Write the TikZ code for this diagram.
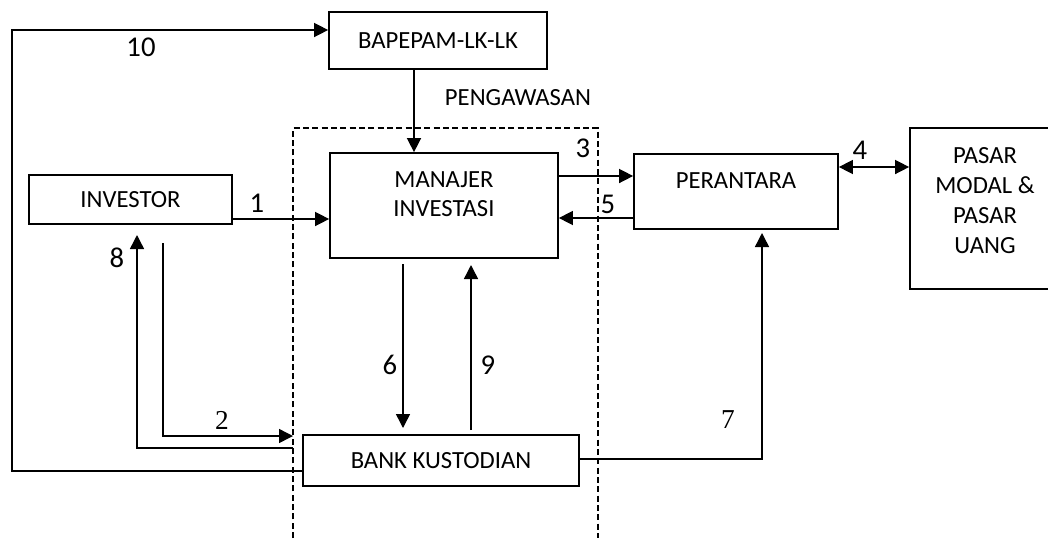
\documentclass[tikz,border=0pt]{standalone}
\usepackage{fontspec}
\setmainfont{Carlito}
\newfontfamily\seriffont{Liberation Serif}
\usetikzlibrary{arrows.meta}
\tikzset{
  box/.style={draw, line width=1.3pt, inner sep=0pt, font=\fontsize{18.5}{21.75}\selectfont, align=center},
  txt/.style={inner sep=0pt, font=\fontsize{18.5}{21.75}\selectfont, align=center},
  num/.style={inner sep=0pt, font=\fontsize{21.5}{24}\selectfont},
  snum/.style={inner sep=0pt, font=\fontsize{20.5}{23}\seriffont},
  conn/.style={line width=1.1pt, -{Triangle[length=10.5pt,width=10.5pt]}},
  dconn/.style={line width=1.1pt, {Triangle[length=10.5pt,width=10.5pt]}-{Triangle[length=10.5pt,width=10.5pt]}},
  fence/.style={line width=1.1pt, dash pattern=on 4.5pt off 2.5pt}
}
\begin{document}
\begin{tikzpicture}[x=0.75pt,y=-0.75pt]
\useasboundingbox (0,0) rectangle (1048,554);
\fill[white] (0,0) rectangle (1048,554);

% boxes
\node[box, minimum width=163.5pt, minimum height=42.75pt] (bp) at (438,40.5) {BAPEPAM-LK-LK};
\node[box, minimum width=171pt, minimum height=78.75pt] (mi) at (444,205.5) {};
\node[txt] (mit) at (444,194.5) {MANAJER\\INVESTASI};
\node[box, minimum width=153pt, minimum height=56.25pt] (pr) at (736,191.5) {};
\node[txt] (prt) at (736,181) {PERANTARA};
\node[box, minimum width=105pt, minimum height=120.75pt] (pm) at (980,208.5) {};
\node[txt, font=\fontsize{18.5}{22.5}\selectfont] (pmt) at (985,200.5) {PASAR\\MODAL \&\\PASAR\\UANG};
\node[box, minimum width=152.25pt, minimum height=36.75pt] (inv) at (130.5,199.5) {INVESTOR};
\node[box, minimum width=207pt, minimum height=38.25pt] (bk) at (441,460.5) {BANK KUSTODIAN};

% dashed supervision frame
\draw[fence] (293,538) -- (293,128) -- (598,128) -- (598,538);
\node[txt] (peng) at (518,98) {PENGAWASAN};

% free ends
\coordinate (c8s) at (293,448);
\coordinate (c8e) at (137,235);
\coordinate (c2s) at (163,243);
\coordinate (c2e) at (293,436);
\coordinate (c6s) at (403,264);
\coordinate (c6e) at (403,428);
\coordinate (c9s) at (471,430);
\coordinate (c9e) at (471,265);
\coordinate (c7e) at (762,233);

% connectors
\draw[conn] (bk.west |- 0,471) -- (12,471) -- (12,30) -- (bp.west |- 0,30);
\draw[conn] (bp.south -| 414,0) -- (mi.north -| 414,0);
\draw[conn] (mi.east |- 0,176) -- (pr.west |- 0,176);
\draw[conn] (pr.west |- 0,218) -- (mi.east |- 0,218);
\draw[dconn] (pr.east |- 0,167) -- (pm.west |- 0,167);
\draw[conn] (inv.east |- 0,219) -- (mi.west |- 0,219);
\draw[conn] (c8s) -- (c8e |- c8s) -- (c8e);
\draw[conn] (c2s) -- (c2s |- c2e) -- (c2e);
\draw[conn] (c6s) -- (c6e);
\draw[conn] (c9s) -- (c9e);
\draw[conn] (bk.east |- 0,459) -- (c7e |- 0,459) -- (c7e);

% labels
\node[num] (l10) at (141,47) {10};
\node[num] (l1) at (257,203) {1};
\node[num] (l3) at (583,148) {3};
\node[num] (l4) at (860,150) {4};
\node[num] (l5) at (608,204) {5};
\node[num] (l6) at (390,365) {6};
\node[num] (l8) at (117,258) {8};
\node[num] (l9) at (488,365) {9};
\node[snum] (l2) at (222,420) {2};
\node[snum] (l7) at (728,420) {7};
\end{tikzpicture}
\end{document}
